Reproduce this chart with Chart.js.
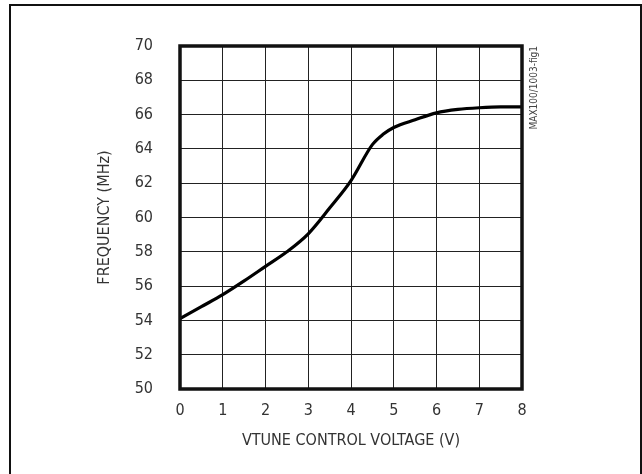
<!DOCTYPE html>
<html>
<head>
<meta charset="utf-8">
<style>
  html, body { margin: 0; padding: 0; background: #fff; }
  #wrap { position: relative; width: 642px; height: 474px; }
</style>
</head>
<body>
<div id="wrap"><canvas id="freqChart" width="642" height="474"></canvas></div>
<script src="https://cdn.jsdelivr.net/npm/chart.js"></script>
<script>
    // data
    const voltage = [0, 0.5, 1, 1.5, 2, 2.5, 3, 3.5, 4, 4.5, 4.75, 5, 5.5, 6, 6.5, 7, 7.5, 8];
    const frequency = [54.1, 54.8, 55.5, 56.3, 57.15, 58.0, 59.05, 60.55, 62.15, 64.25, 64.85, 65.25, 65.7, 66.1, 66.3, 66.4, 66.45, 66.45];
    const xTicks = [0, 1, 2, 3, 4, 5, 6, 7, 8];
    const yTicks = [50, 52, 54, 56, 58, 60, 62, 64, 66, 68, 70];

    const FONT = '"Liberation Sans Narrow", "DejaVu Sans Condensed", "Liberation Sans", sans-serif';
    const TEXT = '#333';

    // outer frame, thick plot border and the figure tag
    const framePlugin = {
        id: 'frame',
        afterDraw(chart) {
            const ctx = chart.ctx;
            const a = chart.chartArea;
            ctx.save();
            ctx.strokeStyle = '#111';
            ctx.lineWidth = 2;
            ctx.beginPath();
            ctx.moveTo(10, 474);
            ctx.lineTo(10, 5);
            ctx.lineTo(641, 5);
            ctx.lineTo(641, 474);
            ctx.stroke();

            ctx.lineWidth = 3.5;
            ctx.strokeRect(a.left, a.top, a.right - a.left, a.bottom - a.top);

            ctx.translate(534, 46);
            ctx.rotate(-Math.PI / 2);
            ctx.fillStyle = '#444';
            ctx.font = '10px ' + FONT;
            ctx.textAlign = 'right';
            ctx.textBaseline = 'middle';
            ctx.fillText('MAX100/1003-fig1', 0, 0);
            ctx.restore();
        }
    };

    const ctx = document.getElementById('freqChart').getContext('2d');
    const freqChart = new Chart(ctx, {
        type: 'line',
        data: {
            datasets: [{
                data: voltage.map((v, i) => ({ x: v, y: frequency[i] })),
                borderColor: '#000',
                borderWidth: 3.2,
                pointRadius: 0,
                cubicInterpolationMode: 'monotone',
                fill: false
            }]
        },
        options: {
            responsive: false,
            animation: false,
            layout: {
                padding: { left: 0, top: 46, right: 120, bottom: 0 }
            },
            plugins: {
                legend: { display: false },
                tooltip: { enabled: false }
            },
            scales: {
                x: {
                    type: 'linear',
                    min: 0,
                    max: 8,
                    afterFit: (s) => { s.height = 85; },
                    afterBuildTicks: (s) => { s.ticks = xTicks.map(v => ({ value: v })); },
                    grid: { color: '#222', lineWidth: 1, drawTicks: false },
                    border: { display: false },
                    ticks: {
                        padding: 12,
                        color: TEXT,
                        font: { family: FONT, size: 16 }
                    },
                    title: {
                        display: true,
                        text: 'VTUNE CONTROL VOLTAGE (V)',
                        color: TEXT,
                        font: { family: FONT, size: 16 },
                        padding: { top: 0, bottom: 24 }
                    }
                },
                y: {
                    type: 'linear',
                    min: 50,
                    max: 70,
                    afterFit: (s) => { s.width = 180; },
                    afterBuildTicks: (s) => { s.ticks = yTicks.map(v => ({ value: v })); },
                    grid: { color: '#222', lineWidth: 1, drawTicks: false },
                    border: { display: false },
                    ticks: {
                        padding: 27,
                        color: TEXT,
                        font: { family: FONT, size: 16 }
                    },
                    title: {
                        display: true,
                        text: 'FREQUENCY (MHz)',
                        color: TEXT,
                        font: { family: FONT, size: 16 },
                        padding: { top: 95, bottom: 0 }
                    }
                }
            }
        },
        plugins: [framePlugin]
    });
</script>
</body>
</html>
